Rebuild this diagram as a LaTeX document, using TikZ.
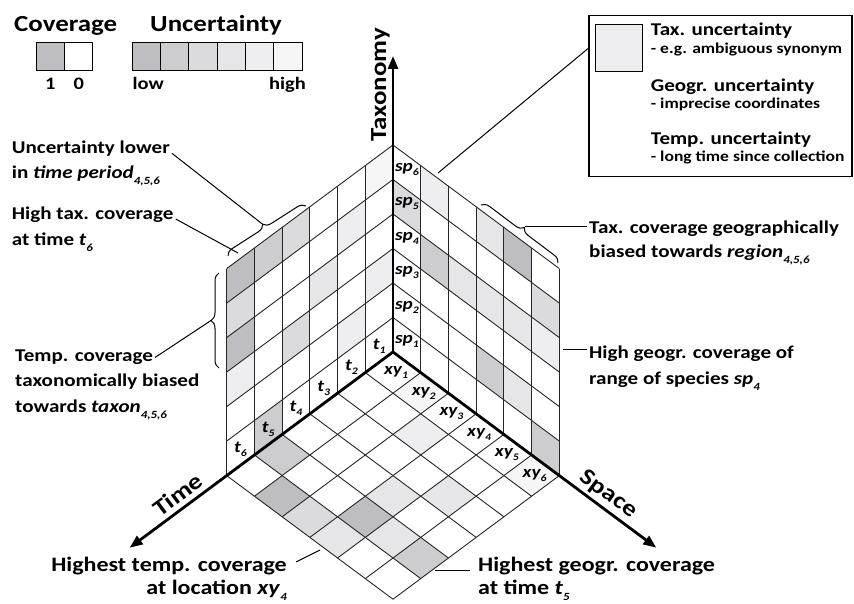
\documentclass[tikz,border=0pt]{standalone}
\usepackage{fontspec}
\setmainfont{Carlito}[FakeStretch=1.17]
\usetikzlibrary{arrows.meta,decorations.pathreplacing}

% grey levels, darkest = coverage 1 / low uncertainty
\definecolor{lvA}{RGB}{190,190,194}
\definecolor{lvB}{RGB}{205,205,208}
\definecolor{lvC}{RGB}{219,219,222}
\definecolor{lvD}{RGB}{230,230,232}
\definecolor{lvE}{RGB}{238,238,240}
\definecolor{lvF}{RGB}{246,246,247}

\newcommand\headfont{\fontsize{23}{23}\selectfont\bfseries}
\newcommand\notefont{\fontsize{18}{18}\selectfont\bfseries}
\newcommand\bignotefont{\fontsize{20.5}{20.5}\selectfont\bfseries}
\newcommand\smallfont{\fontsize{15}{15}\selectfont\bfseries}
\newcommand\keyfont{\fontsize{17.5}{17.5}\selectfont\bfseries}
\newcommand\cellfont{\fontsize{16.5}{16.5}\selectfont\bfseries\itshape}
\newcommand\sub[1]{\raisebox{-6pt}{\fontsize{11}{11}\selectfont\bfseries\itshape #1}}
\newcommand\lab[2]{#1\raisebox{-4pt}{\fontsize{10}{10}\selectfont #2}}

\tikzset{
  grid line/.style={line width=0.9pt, black!85},
  axis/.style={line width=2.8pt, -{Triangle[length=13pt,width=10pt]}},
  leader/.style={line width=1pt},
  curly/.style={decorate, decoration={brace, amplitude=8pt}, line width=1pt},
  note/.style={font=\notefont, anchor=base west, inner sep=2pt},
  bignote/.style={font=\bignotefont, inner sep=2pt},
  smallnote/.style={font=\smallfont, anchor=base west, inner sep=0pt},
  key/.style={draw, line width=1pt, minimum size=28.3pt, inner sep=0pt},
  cell/.style={font=\cellfont, inner sep=0pt},
  axis label/.style={font=\headfont, inner sep=0pt}
}

\begin{document}
\begin{tikzpicture}[x=1pt,y=-1pt]
  \useasboundingbox (0,0) rectangle (854,604);
  \fill[white] (0,0) rectangle (854,604);

  % legend: coverage and uncertainty scales
  \node[font=\headfont, anchor=base west, inner sep=0pt] (covT) at (14,32) {Coverage};
  \node[font=\headfont, anchor=base west, inner sep=0pt] (uncT) at (150,32) {Uncertainty};
  \node[key, fill=lvA] (c1) at (50.2,56.5) {};
  \node[key, fill=white] (c0) at (78.5,56.5) {};
  \node[font=\keyfont, anchor=base, inner sep=0pt] (one) at (50.3,90) {1};
  \node[font=\keyfont, anchor=base, inner sep=0pt] (zero) at (78.8,90) {0};
  \foreach \c [count=\n] in {lvA,lvB,lvC,lvD,lvE,lvF}
    \node[key, fill=\c] (u\n) at (132.3+28.33*\n-14.17,56.5) {};
  \node[font=\keyfont, anchor=base west, inner sep=0pt] (low) at (132.3,90) {low};
  \node[font=\keyfont, anchor=base east, inner sep=0pt] (high) at (306,90) {high};

  % legend box, upper right
  \node[draw, line width=1.2pt, minimum width=263pt, minimum height=160.7pt, anchor=north west, inner sep=0pt] (legbox) at (588.3,15) {};
  \node[draw, line width=1pt, fill=lvE, minimum size=46.7pt, inner sep=0pt] (swatch) at (619.3,48.3) {};
  \node[note, inner sep=0pt] (lgA) at (650.7,36) {Tax. uncertainty};
  \node[smallnote] (lgB) at (650.7,53.3) {- e.g. ambiguous synonym};
  \node[note, inner sep=0pt] (lgC) at (650.7,91.7) {Geogr. uncertainty};
  \node[smallnote] (lgD) at (650.7,109) {- imprecise coordinates};
  \node[note, inner sep=0pt] (lgE) at (650.7,145) {Temp. uncertainty};
  \node[smallnote] (lgF) at (650.7,161.7) {- long time since collection};

  % the cube: x = time, y = space, z = taxonomy
  \begin{scope}[shift={(393pt,-352pt)}, x={(-27.72pt,-20.6pt)}, y={(27.72pt,-20.6pt)}, z={(0pt,34.5pt)}]
    \coordinate (O) at (0,0,0);
    \coordinate (taxTip) at (0,0,8.58);
    \coordinate (timeTip) at (9.5,0,0);
    \coordinate (spaceTip) at (0,9.5,0);
    % left wall (time x taxonomy)
    \foreach \i/\r/\c in {6/6/lvA,6/5/lvC,6/4/lvA,6/3/lvE,5/6/lvB,5/1/lvB,4/6/lvC,4/3/lvC,3/4/lvD,2/5/lvE,2/2/lvE,1/6/lvF,1/3/lvE}
      \fill[\c] (\i-1,0,\r-1) -- (\i,0,\r-1) -- (\i,0,\r) -- (\i-1,0,\r) -- cycle;
    % right wall (space x taxonomy)
    \foreach \k/\r/\c in {1/5/lvC,2/6/lvE,2/4/lvB,3/4/lvD,4/6/lvD,4/4/lvD,4/2/lvB,5/6/lvA,5/4/lvD,5/2/lvD,6/5/lvC,6/4/lvE,6/1/lvB}
      \fill[\c] (0,\k-1,\r-1) -- (0,\k,\r-1) -- (0,\k,\r) -- (0,\k-1,\r) -- cycle;
    % floor (time x space)
    \foreach \i/\k/\c in {5/1/lvB,6/2/lvA,6/3/lvC,5/4/lvA,6/4/lvD,5/5/lvD,5/6/lvB,4/4/lvD,3/5/lvD,2/3/lvE,1/2/lvF,1/6/lvF}
      \fill[\c] (\i-1,\k-1,0) -- (\i,\k-1,0) -- (\i,\k,0) -- (\i-1,\k,0) -- cycle;
    \foreach \n in {0,...,6}{
      \draw[grid line] (\n,0,0) -- (\n,0,6);
      \draw[grid line] (0,0,\n) -- (6,0,\n);
      \draw[grid line] (0,\n,0) -- (0,\n,6);
      \draw[grid line] (0,0,\n) -- (0,6,\n);
      \draw[grid line] (\n,0,0) -- (\n,6,0);
      \draw[grid line] (0,\n,0) -- (6,\n,0);
    }
    \draw[axis] (O) -- (taxTip);
    \draw[axis] (O) -- (timeTip);
    \draw[axis] (O) -- (spaceTip);
    \foreach \j in {1,...,6}{
      \node[cell] (t\j) at (\j-0.5,0,0.45) {\lab{t}{\j}};
      \node[cell] (sp\j) at (0,0.5,\j-0.4) {\lab{sp}{\j}};
      \node[cell, xshift=3pt] (xy\j) at (0.5,\j-0.5,0) {\lab{xy}{\j}};
    }
  \end{scope}

  \node[axis label, rotate=90] (taxL) at (380.5,85) {Taxonomy};
  \node[axis label, rotate=36.6] (timeL) at (177.7,494.6) {Time};
  \node[axis label, rotate=-36.6] (spaceL) at (608.3,494.6) {Space};

  % braces
  \draw[curly] (228,256) -- (306,206);
  \draw[curly] (481,205) -- (558,263);
  \draw[curly] (219,368) -- (219,273);
  \coordinate (braceT) at (262.7,224.3);
  \coordinate (braceR) at (525,227);
  \coordinate (braceV) at (211,320.5);
  \coordinate (colT6) at (238,253);
  \coordinate (rowSp4) at (563,349);
  \coordinate (edgeXY4) at (320,550);
  \coordinate (edgeT5) at (435,570);
  \coordinate (cellTax) at (438,173);

  % annotations
  \node[note] (unA) at (9.7,153.3) {Uncertainty lower};
  \node[note] (unB) at (9.7,178.3) {in \textit{time period}\sub{4,5,6}};
  \node[note] (hiA) at (9.7,219) {High tax. coverage};
  \node[note] (hiB) at (9.7,245) {at time \textit{t}\sub{6}};
  \node[note] (tcA) at (13,361.7) {Temp. coverage};
  \node[note] (tcB) at (13,386.7) {taxonomically biased};
  \node[note] (tcC) at (13,412.7) {towards \textit{taxon}\sub{4,5,6}};
  \node[note] (tgA) at (587,233.3) {Tax. coverage geographically};
  \node[note] (tgB) at (587,257.3) {biased towards \textit{region}\sub{4,5,6}};
  \node[note] (hgA) at (587,358) {High geogr. coverage of};
  \node[note] (hgB) at (587,384) {range of species \textit{sp}\sub{4}};
  \node[bignote, anchor=base east] (htA) at (289,571) {Highest temp. coverage};
  \node[bignote, anchor=base east] (htB) at (289,594) {at location \textit{xy}\sub{4}};
  \node[bignote, anchor=base west] (hsA) at (476,571) {Highest geogr. coverage};
  \node[bignote, anchor=base west] (hsB) at (476,594) {at time \textit{t}\sub{5}};

  \draw[leader] (unA.base east) -- (braceT);
  \draw[leader] (hiA.base east) -- (colT6);
  \draw[leader] (tcA.east) -- (braceV);
  \draw[leader] (braceR) -- (braceR -| tgA.west);
  \draw[leader] (rowSp4) -- (rowSp4 -| hgA.west);
  \draw[leader, shorten <=8pt] (htA.east) -- (edgeXY4);
  \draw[leader, shorten >=6pt] (edgeT5) -- (edgeT5 -| hsA.west);
  \draw[leader] (cellTax) -- (swatch -| legbox.west);
\end{tikzpicture}
\end{document}
